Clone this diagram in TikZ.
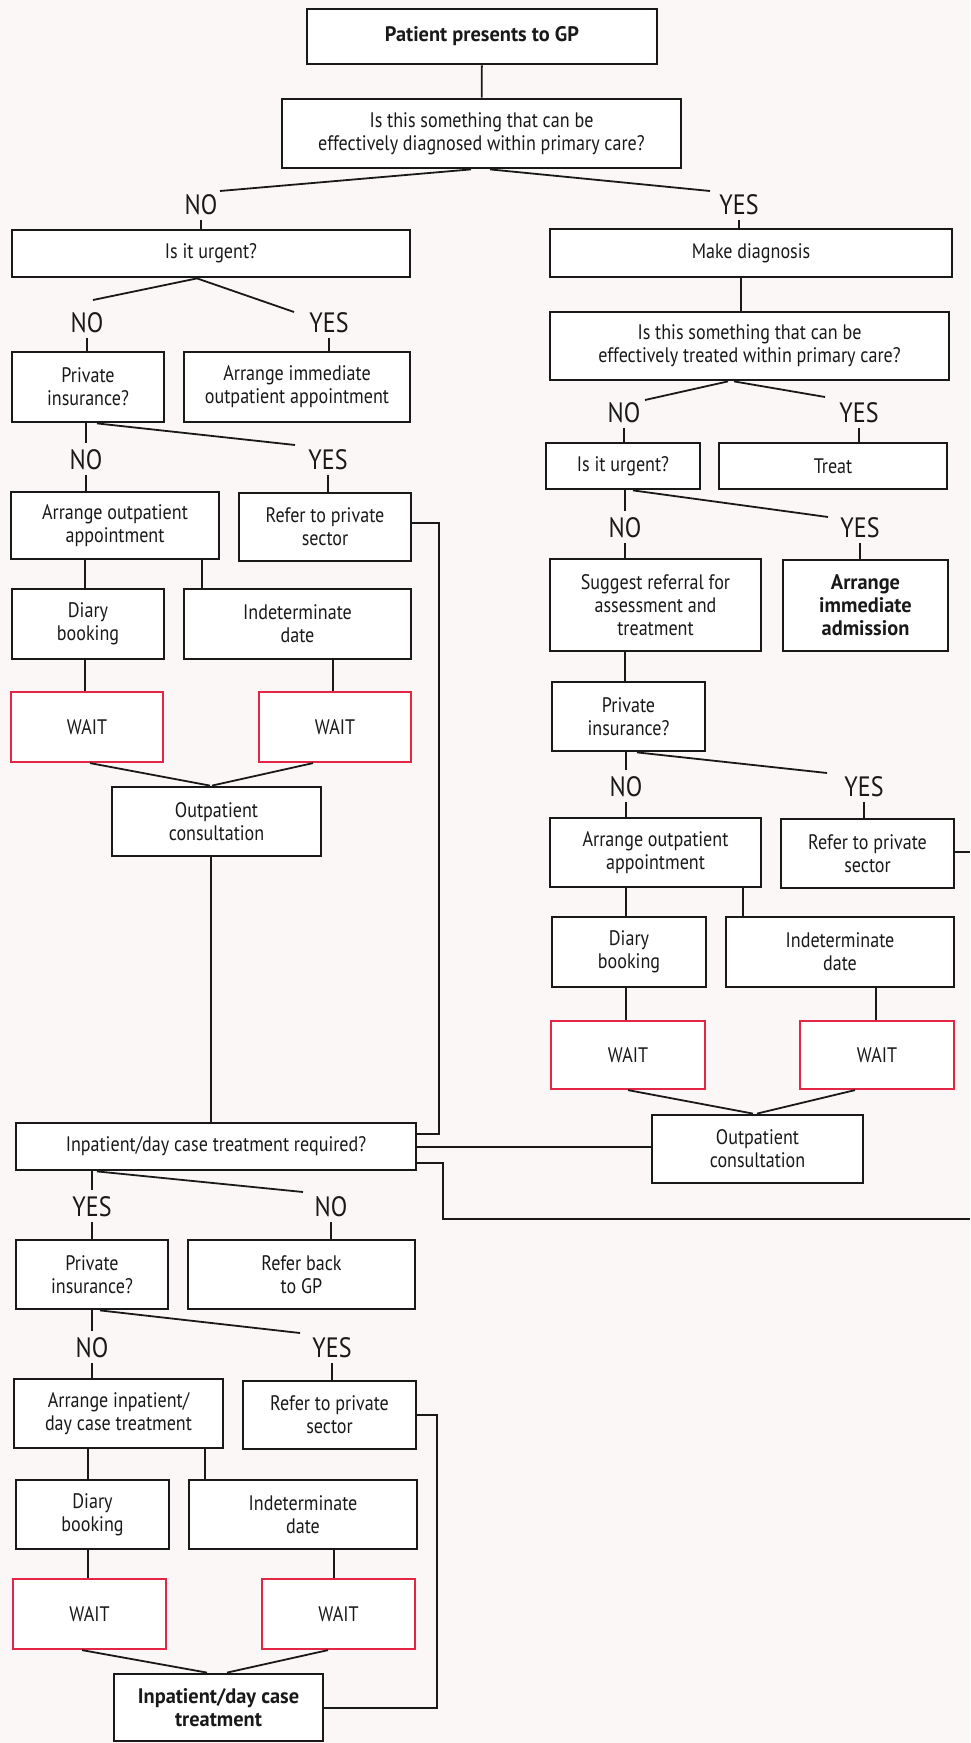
\documentclass[tikz,border=0pt]{standalone}
\usepackage{fontspec}
\setmainfont{PT Sans}[FakeStretch=0.86]
\newfontfamily\boldfam{PT Sans}[FakeStretch=0.97]
\usetikzlibrary{calc}
\definecolor{bgc}{RGB}{252,247,247}
\definecolor{wred}{RGB}{228,38,70}
\definecolor{ink}{RGB}{25,25,25}
\newcommand\bfnt{\fontsize{10.5}{11.6}\selectfont}
\newcommand\lfnt{\fontsize{14}{15}\selectfont}
\newcommand\bt{\boldfam\bfseries}
\begin{document}
\begin{tikzpicture}[x=0.5pt,y=-0.5pt,
  R/.style args={#1/#2/#3/#4}{at={({(#1+#3)/2},{(#2+#4)/2})},
     minimum width={(#3-#1)*0.5pt}, minimum height={(#4-#2)*0.5pt}},
  box/.style={draw=ink, line width=1.4pt, fill=white, inner sep=0pt, align=center, font=\bfnt, text=ink},
  wbox/.style={box, draw=wred, line width=1.1pt},
  lab/.style={inner sep=0pt, font=\lfnt, text=ink},
  con/.style={draw=ink, line width=0.9pt}]
\fill[bgc] (0,0) rectangle (970,1743);
\useasboundingbox (0,0) rectangle (970,1743);

% ---------- boxes ----------
\node[box,R=307/9/657/64] (gp) {\bt Patient presents to GP};
\node[box,R=282/99/681/168] (diag) {Is this something that can be\\effectively diagnosed within primary care?};
\node[box,R=12/230/410/277] (urg1) {Is it urgent?};
\node[box,R=550/229/952/277] (mkd) {Make diagnosis};
\node[box,R=550/312/949/380] (treatq) {Is this something that can be\\effectively treated within primary care?};
\node[box,R=12/352/164/422] (pi1) {Private\\insurance?};
\node[box,R=184/352/410/422] (imo) {Arrange immediate\\outpatient appointment};
\node[box,R=546/443/700/489] (urg2) {Is it urgent?};
\node[box,R=719/443/947/489] (treat) {Treat};
\node[box,R=11/492/219/559] (opa1) {Arrange outpatient\\appointment};
\node[box,R=239/493/411/561] (rps1) {Refer to private\\sector};
\node[box,R=550/559/761/651] (sug) {Suggest referral for\\assessment and\\treatment};
\node[box,R=783/560/948/651] (adm) {\bt Arrange\\\bt immediate\\\bt admission};
\node[box,R=12/589/164/659] (diary1) {Diary\\booking};
\node[box,R=184/589/411/659] (ind1) {Indeterminate\\date};
\node[box,R=552/682/705/751] (pi2) {Private\\insurance?};
\node[wbox,R=11/692/163/762] (wait1) {WAIT};
\node[wbox,R=259/692/411/762] (wait2) {WAIT};
\node[box,R=112/787/321/856] (opc1) {Outpatient\\consultation};
\node[box,R=550/818/761/887] (opa2) {Arrange outpatient\\appointment};
\node[box,R=781/819/954/888] (rps2) {Refer to private\\sector};
\node[box,R=552/917/706/987] (diary2) {Diary\\booking};
\node[box,R=726/917/954/987] (ind2) {Indeterminate\\date};
\node[wbox,R=551/1021/705/1089] (wait3) {WAIT};
\node[wbox,R=800/1021/954/1089] (wait4) {WAIT};
\node[box,R=652/1115/863/1183] (opc2) {Outpatient\\consultation};
\node[box,R=16/1123/416/1170] (inpq) {Inpatient/day case treatment required?};
\node[box,R=16/1240/168/1309] (pi3) {Private\\insurance?};
\node[box,R=188/1240/415/1309] (rbgp) {Refer back\\to GP};
\node[box,R=14/1379/223/1448] (aip) {Arrange inpatient/\\day case treatment};
\node[box,R=243/1381/416/1449] (rps3) {Refer to private\\sector};
\node[box,R=16/1480/169/1549] (diary3) {Diary\\booking};
\node[box,R=189/1480/417/1549] (ind3) {Indeterminate\\date};
\node[wbox,R=13/1579/166/1649] (wait5) {WAIT};
\node[wbox,R=262/1579/415/1649] (wait6) {WAIT};
\node[box,R=114/1674/323/1741] (final) {\bt Inpatient/day case\\\bt treatment};

% ---------- labels ----------
\node[lab] (no1) at (201,205) {NO};
\node[lab] (yes1) at (739,205) {YES};
\node[lab] (no2) at (87,323) {NO};
\node[lab] (yes2) at (329,323) {YES};
\node[lab] (no3) at (624,413) {NO};
\node[lab] (yes3) at (859,413) {YES};
\node[lab] (no4) at (86,460) {NO};
\node[lab] (yes4) at (328,460) {YES};
\node[lab] (no5) at (625,528) {NO};
\node[lab] (yes5) at (860,528) {YES};
\node[lab] (no6) at (626,787) {NO};
\node[lab] (yes6) at (864,787) {YES};
\node[lab] (yes7) at (92,1207) {YES};
\node[lab] (no7) at (331,1207) {NO};
\node[lab] (no8) at (92,1348) {NO};
\node[lab] (yes8) at (332,1348) {YES};

% ---------- connectors ----------
\draw[con] (gp) -- (diag);
\draw[con] (471,0 |- diag.south) -- ($(no1)+(19,-14)$);
\draw[con] (490,0 |- diag.south) -- ($(yes1)+(-29,-14)$);
\draw[con] ($(no1)+(0,15)$) -- (no1 |- urg1.north);
\draw[con] ($(yes1)+(0,15)$) -- (yes1 |- mkd.north);

\draw[con] (197,0 |- urg1.south) -- ($(no2)+(6,-23)$);
\draw[con] (197,0 |- urg1.south) -- ($(yes2)+(-35,-11)$);
\draw[con] ($(no2)+(0,15)$) -- (no2 |- pi1.north);
\draw[con] ($(yes2)+(0,15)$) -- (yes2 |- imo.north);

\draw[con] (741,0 |- mkd.south) -- (741,0 |- treatq.north);
\draw[con] (728,0 |- treatq.south) -- ($(no3)+(21,-13)$);
\draw[con] (734,0 |- treatq.south) -- ($(yes3)+(-34,-16)$);
\draw[con] ($(no3)+(0,15)$) -- (no3 |- urg2.north);
\draw[con] ($(yes3)+(0,15)$) -- (yes3 |- treat.north);

\draw[con] (no4 |- pi1.south) -- ($(no4)+(0,-17)$);
\draw[con] (97,0 |- pi1.south) -- ($(yes4)+(-33,-15)$);
\draw[con] ($(no4)+(0,15)$) -- (no4 |- opa1.north);
\draw[con] ($(yes4)+(0,15)$) -- (yes4 |- rps1.north);

\draw[con] (85,0 |- opa1.south) -- (85,0 |- diary1.north);
\draw[con] (202,0 |- opa1.south) -- (202,0 |- ind1.north);
\draw[con] (85,0 |- diary1.south) -- (85,0 |- wait1.north);
\draw[con] (333,0 |- ind1.south) -- (333,0 |- wait2.north);
\draw[con] (90,0 |- wait1.south) -- (210,0 |- opc1.north);
\draw[con] (313,0 |- wait2.south) -- (212,0 |- opc1.north);
\draw[con] (211,0 |- opc1.south) -- (211,0 |- inpq.north);
\draw[con] (rps1.east |- 0,523) -- (439,523) |- (inpq.east |- 0,1134);

\draw[con] (no5 |- urg2.south) -- ($(no5)+(0,-17)$);
\draw[con] (633,0 |- urg2.south) -- ($(yes5)+(-32,-11)$);
\draw[con] ($(no5)+(0,15)$) -- (no5 |- sug.north);
\draw[con] ($(yes5)+(0,15)$) -- (yes5 |- adm.north);
\draw[con] (625,0 |- sug.south) -- (625,0 |- pi2.north);

\draw[con] (no6 |- pi2.south) -- ($(no6)+(0,-17)$);
\draw[con] (637,0 |- pi2.south) -- ($(yes6)+(-37,-14)$);
\draw[con] ($(no6)+(0,15)$) -- (no6 |- opa2.north);
\draw[con] ($(yes6)+(0,15)$) -- (yes6 |- rps2.north);
\coordinate (edgeB) at (970,852);
\draw[con] (rps2.east |- edgeB) -- (edgeB);

\draw[con] (626,0 |- opa2.south) -- (626,0 |- diary2.north);
\draw[con] (743,0 |- opa2.south) -- (743,0 |- ind2.north);
\draw[con] (626,0 |- diary2.south) -- (626,0 |- wait3.north);
\draw[con] (876,0 |- ind2.south) -- (876,0 |- wait4.north);
\draw[con] (628,0 |- wait3.south) -- (753,0 |- opc2.north);
\draw[con] (855,0 |- wait4.south) -- (757,0 |- opc2.north);

\draw[con] (inpq.east |- 0,1147) -- (opc2.west |- 0,1147);
\coordinate (edgeA) at (970,1219);
\draw[con] (inpq.east |- 0,1163) -- (443,1163) |- (edgeA);

\draw[con] (yes7 |- inpq.south) -- ($(yes7)+(0,-17)$);
\draw[con] (97,0 |- inpq.south) -- ($(no7)+(-28,-15)$);
\draw[con] ($(yes7)+(0,15)$) -- (yes7 |- pi3.north);
\draw[con] ($(no7)+(0,15)$) -- (no7 |- rbgp.north);

\draw[con] (no8 |- pi3.south) -- ($(no8)+(0,-17)$);
\draw[con] (100,0 |- pi3.south) -- ($(yes8)+(-32,-15)$);
\draw[con] ($(no8)+(0,15)$) -- (no8 |- aip.north);
\draw[con] ($(yes8)+(0,15)$) -- (yes8 |- rps3.north);

\draw[con] (88,0 |- aip.south) -- (88,0 |- diary3.north);
\draw[con] (205,0 |- aip.south) -- (205,0 |- ind3.north);
\draw[con] (88,0 |- diary3.south) -- (88,0 |- wait5.north);
\draw[con] (334,0 |- ind3.south) -- (334,0 |- wait6.north);
\draw[con] (82,0 |- wait5.south) -- (207,0 |- final.north);
\draw[con] (328,0 |- wait6.south) -- (227,0 |- final.north);
\draw[con] (rps3.east |- 0,1415) -- (437,1415) |- (final.east |- 0,1708);
\end{tikzpicture}
\end{document}
